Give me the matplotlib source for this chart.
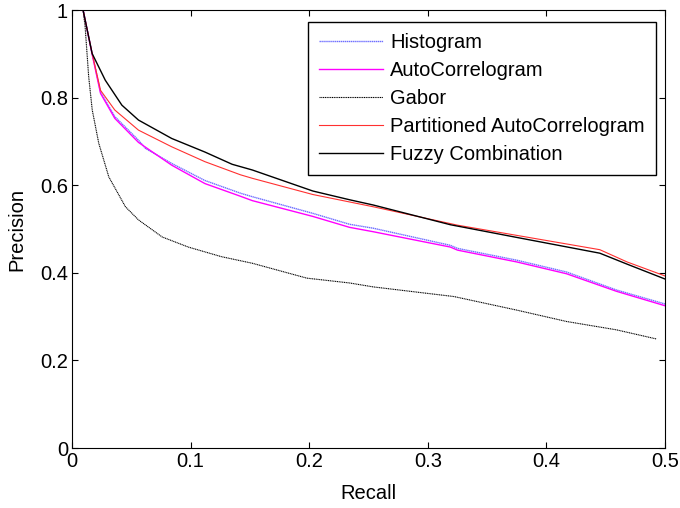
import matplotlib
matplotlib.use('Agg')
import matplotlib.pyplot as plt

plt.rcParams['font.family'] = ['Liberation Sans', 'DejaVu Sans']

# Recall / precision samples
hist_recall = [0.0093, 0.017, 0.024, 0.036, 0.056, 0.062, 0.084, 0.112, 0.142, 0.152,
               0.203, 0.234, 0.254, 0.319, 0.325, 0.375, 0.417, 0.459, 0.500]
hist_prec = [1.0, 0.90, 0.813, 0.757, 0.703, 0.684, 0.650, 0.611, 0.582, 0.574,
             0.536, 0.511, 0.502, 0.463, 0.456, 0.429, 0.402, 0.361, 0.329]

auto_recall = [0.0093, 0.017, 0.024, 0.036, 0.056, 0.084, 0.112, 0.142, 0.152,
               0.203, 0.234, 0.254, 0.319, 0.325, 0.375, 0.417, 0.459, 0.500]
auto_prec = [1.0, 0.898, 0.810, 0.753, 0.698, 0.646, 0.604, 0.575, 0.565,
             0.529, 0.504, 0.494, 0.459, 0.452, 0.425, 0.398, 0.358, 0.325]

gabor_recall = [0.0093, 0.011, 0.014, 0.017, 0.0225, 0.031, 0.045, 0.056, 0.076, 0.098,
                0.126, 0.152, 0.198, 0.234, 0.254, 0.322, 0.375, 0.417, 0.459, 0.493]
gabor_prec = [1.0, 0.962, 0.848, 0.772, 0.696, 0.619, 0.551, 0.521, 0.482, 0.459,
              0.437, 0.422, 0.388, 0.377, 0.368, 0.346, 0.315, 0.289, 0.270, 0.249]

part_recall = [0.0093, 0.017, 0.024, 0.036, 0.056, 0.084, 0.112, 0.142, 0.152,
               0.203, 0.254, 0.325, 0.445, 0.468, 0.500]
part_prec = [1.0, 0.90, 0.817, 0.772, 0.726, 0.688, 0.654, 0.624, 0.616,
             0.579, 0.551, 0.509, 0.453, 0.425, 0.393]

fuzzy_recall = [0.0093, 0.0169, 0.028, 0.042, 0.056, 0.084, 0.112, 0.135, 0.152,
                0.203, 0.234, 0.254, 0.319, 0.375, 0.445, 0.468, 0.500]
fuzzy_prec = [1.0, 0.901, 0.840, 0.783, 0.749, 0.707, 0.676, 0.648, 0.635,
              0.587, 0.567, 0.555, 0.510, 0.481, 0.445, 0.420, 0.386]

fig = plt.figure(figsize=(6.8, 5.08), dpi=100)
ax = fig.add_axes([0.106, 0.118, 0.872, 0.862])

ax.plot(hist_recall, hist_prec, color='#6f6fff', linestyle=(0, (1, 0.4)), linewidth=1.0, label='Histogram')
ax.plot(auto_recall, auto_prec, color='magenta', linewidth=1.0, label='AutoCorrelogram')
ax.plot(gabor_recall, gabor_prec, color='black', linestyle=(0, (1, 0.6)), linewidth=0.8, label='Gabor')
ax.plot(part_recall, part_prec, color='#ff3030', linewidth=0.8, label='Partitioned AutoCorrelogram')
ax.plot(fuzzy_recall, fuzzy_prec, color='black', linewidth=1.0, label='Fuzzy Combination')

ax.set_xlim(0, 0.5)
ax.set_ylim(0, 1)
ax.set_xticks([0, 0.1, 0.2, 0.3, 0.4, 0.5])
ax.set_xticklabels(['0', '0.1', '0.2', '0.3', '0.4', '0.5'])
ax.set_yticks([0, 0.2, 0.4, 0.6, 0.8, 1])
ax.set_yticklabels(['0', '0.2', '0.4', '0.6', '0.8', '1'])
ax.tick_params(direction='in', top=True, right=True, length=4, labelsize=14.5, pad=3)
ax.set_xlabel('Recall', fontsize=14.5, labelpad=9)
ax.set_ylabel('Precision', fontsize=14.5, labelpad=10)

leg = ax.legend(loc='upper right', bbox_to_anchor=(0.985, 0.973), fontsize=14.5,
                frameon=True, fancybox=False, edgecolor='black', framealpha=1,
                handlelength=3.2, handletextpad=0.35, labelspacing=0.45,
                borderpad=0.55, borderaxespad=0)
leg.get_frame().set_linewidth(1.0)

fig.savefig('out.png', dpi=100)
